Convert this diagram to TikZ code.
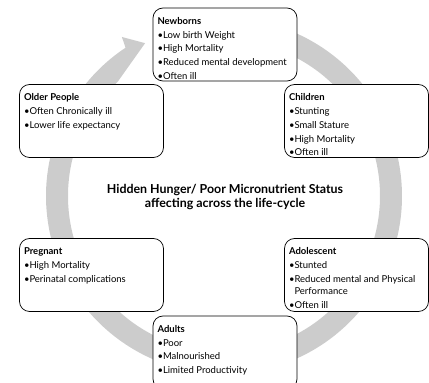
\documentclass[tikz,border=0pt]{standalone}
\usepackage{fontspec}
\setmainfont{Lato}
\newcommand{\boxtext}[1]{\parbox[c][64pt][t]{135pt}{\rule{0pt}{12pt}#1}}

\begin{document}
\begin{tikzpicture}[x=1pt, y=1pt,
  stage/.style={draw, fill=white, rounded corners=10pt, line width=0.7pt,
    inner sep=4.5pt, font=\fontsize{9.5}{13.7}\selectfont},
  hub/.style={align=center, font=\bfseries\fontsize{12.4}{14}\selectfont}]

\useasboundingbox (0,0) rectangle (429,383);

% Parametres de l'anneau
\def\rout{178}
\def\rin{156}

% Anneau avec fleche
\fill[black!20, shift={(224,187)}]
  (95:\rout) arc[start angle=95, end angle=-236.4, radius=\rout]
  -- (122.7:189) -- (117.3:172) -- (133:\rin)
  arc[start angle=-227, end angle=95, radius=\rin] -- cycle;

% Etapes
\node[stage] (newborns) at (225,338.5) {\boxtext{\textbf{Newborns}\\
  \textbullet Low birth Weight\\
  \textbullet High Mortality\\
  \textbullet Reduced mental development\\
  \textbullet Often ill}};
\node[stage] (children) at (356.5,262) {\boxtext{\textbf{Children}\\
  \textbullet Stunting\\
  \textbullet Small Stature\\
  \textbullet High Mortality\\
  \textbullet Often ill}};
\node[stage] (adolescent) at (356.5,108) {\boxtext{\textbf{Adolescent}\\
  \textbullet Stunted\\
  \textbullet Reduced mental and Physical\\[-1.5pt]
  \phantom{\textbullet}Performance\\
  \textbullet Often ill}};
\node[stage] (adults) at (225,30.5) {\boxtext{\textbf{Adults}\\
  \textbullet Poor\\
  \textbullet Malnourished\\
  \textbullet Limited Productivity}};
\node[stage] (pregnant) at (91.5,108) {\boxtext{\textbf{Pregnant}\\
  \textbullet High Mortality\\
  \textbullet Perinatal complications}};
\node[stage] (older) at (91.5,262) {\boxtext{\textbf{Older People}\\
  \textbullet Often Chronically ill\\
  \textbullet Lower life expectancy}};

% Texte central
\node[hub] (hub) at (225,186) {Hidden Hunger/ Poor Micronutrient Status\\
  affecting across the life-cycle};

\end{tikzpicture}
\end{document}
